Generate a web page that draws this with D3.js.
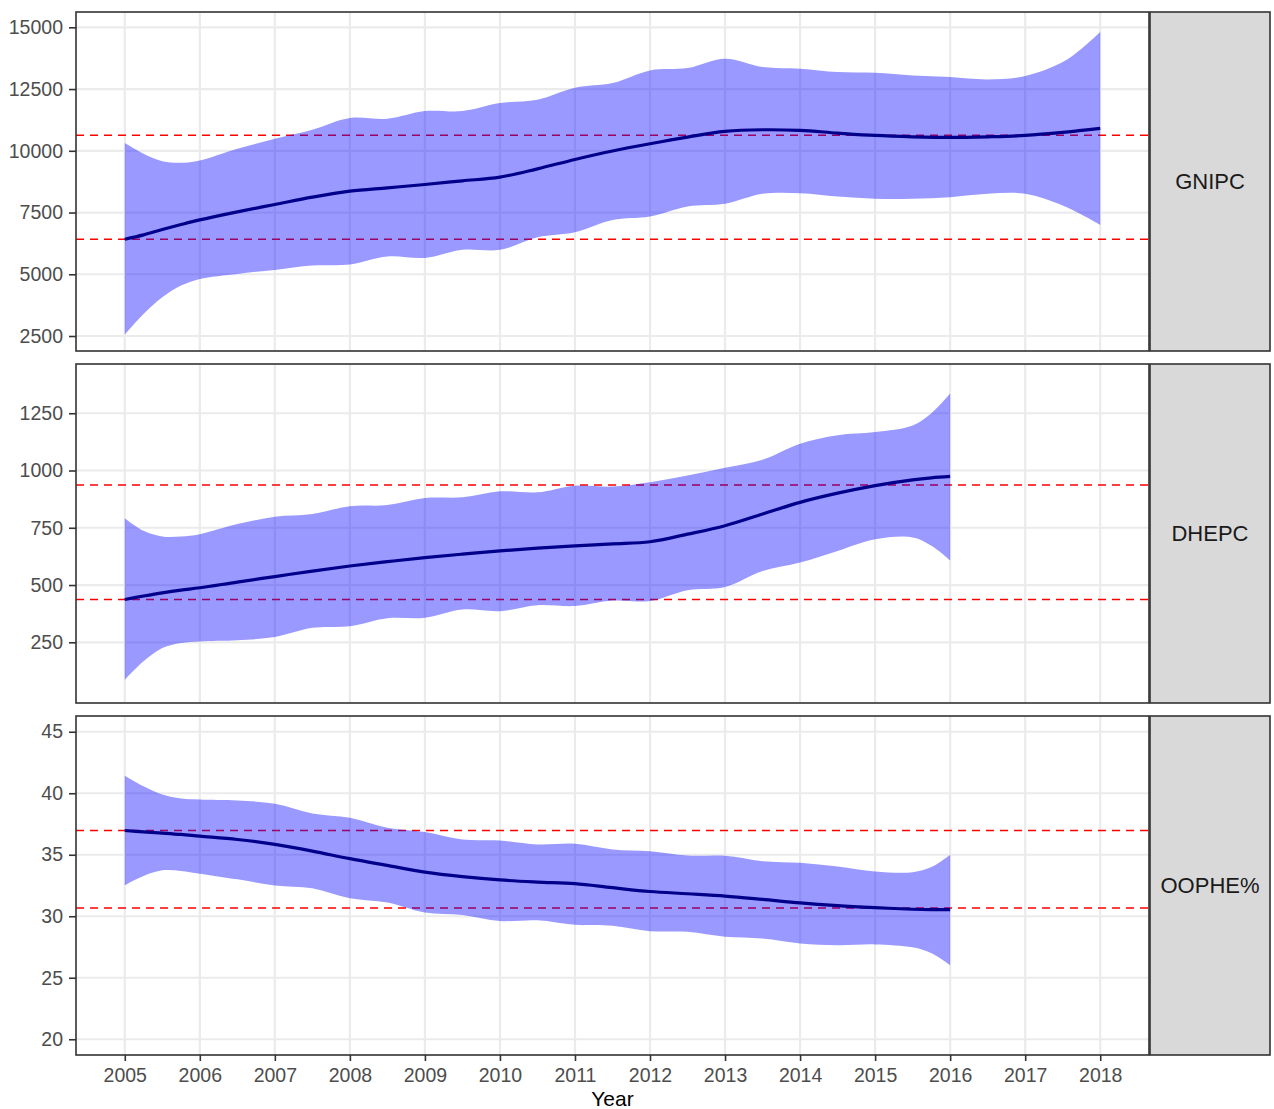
<!DOCTYPE html>
<html>
<head>
<meta charset="utf-8">
<script src="https://cdn.jsdelivr.net/npm/d3@7"></script>
<style>
  html, body { margin: 0; padding: 0; background: #fff; }
  svg { display: block; font-family: "Liberation Sans", Arial, sans-serif; }
</style>
</head>
<body>
<svg id="chart" width="1274" height="1109"></svg>
<script>
// ---- data -------------------------------------------------------------
const xTicks = [2005, 2006, 2007, 2008, 2009, 2010, 2011, 2012, 2013, 2014, 2015, 2016, 2017, 2018];

// GNIPC smooth fit with confidence band
const gnipcYears = [2005, 2005.25, 2005.5, 2005.75, 2006, 2006.5, 2007, 2007.5, 2008, 2008.5,
  2009, 2009.5, 2010, 2010.5, 2011, 2011.5, 2012, 2012.5, 2013, 2013.5, 2014, 2014.5,
  2015, 2015.5, 2016, 2016.5, 2017, 2017.5, 2017.75, 2018];
const gnipcFit = [6420, 6596, 6812, 7014, 7203, 7528, 7825, 8122, 8365, 8500,
  8635, 8784, 8933, 9270, 9649, 9990, 10284, 10554, 10784, 10851, 10824, 10716,
  10621, 10567, 10540, 10567, 10621, 10743, 10824, 10905];
const gnipcUpper = [10311, 9878, 9581, 9514, 9608, 10081, 10486, 10851, 11324, 11297,
  11608, 11608, 11932, 12067, 12553, 12742, 13256, 13350, 13729, 13391, 13323, 13188,
  13161, 13053, 12986, 12891, 13026, 13594, 14134, 14810];
const gnipcLower = [2556, 3394, 4069, 4542, 4812, 5015, 5177, 5353, 5393, 5717,
  5663, 5988, 5988, 6501, 6704, 7200, 7339, 7744, 7852, 8257, 8284, 8149,
  8055, 8055, 8122, 8257, 8257, 7784, 7420, 7001];
const gnipcRefs = [6420, 10630];
const gnipcTicks = [2500, 5000, 7500, 10000, 12500, 15000];

// DHEPC
const dhepcYears = [2005, 2005.25, 2005.5, 2005.75, 2006, 2006.5, 2007, 2007.5, 2008, 2008.5,
  2009, 2009.5, 2010, 2010.5, 2011, 2011.5, 2012, 2012.5, 2013, 2013.5, 2014, 2014.5,
  2015, 2015.5, 2015.75, 2016];
const dhepcFit = [437, 452, 466, 478, 488, 513, 537, 561, 583, 602,
  620, 635, 649, 661, 671, 680, 689, 722, 759, 810, 861, 901,
  934, 959, 968, 974];
const dhepcUpper = [792, 737, 712, 712, 722, 766, 798, 810, 844, 849,
  880, 883, 909, 905, 934, 930, 949, 978, 1012, 1047, 1117, 1154,
  1168, 1197, 1250, 1336];
const dhepcLower = [86, 167, 225, 247, 254, 259, 273, 313, 320, 355,
  357, 393, 386, 412, 408, 432, 430, 477, 491, 561, 598, 649,
  700, 708, 672, 608];
const dhepcRefs = [437, 937];
const dhepcTicks = [250, 500, 750, 1000, 1250];

// OOPHE%
const oopheYears = dhepcYears;
const oopheFit = [36.97, 36.86, 36.76, 36.65, 36.51, 36.24, 35.84, 35.30, 34.68, 34.13,
  33.59, 33.22, 32.95, 32.78, 32.65, 32.32, 32.01, 31.83, 31.64, 31.37, 31.08, 30.86,
  30.70, 30.57, 30.54, 30.54];
const oopheUpper = [41.43, 40.57, 39.89, 39.57, 39.49, 39.41, 39.14, 38.35, 38.00, 37.19,
  36.84, 36.24, 36.16, 35.84, 35.89, 35.43, 35.28, 34.93, 34.91, 34.47, 34.34, 34.04,
  33.64, 33.58, 34.00, 35.01];
const oopheLower = [32.51, 33.27, 33.73, 33.68, 33.46, 33.00, 32.51, 32.27, 31.46, 31.11,
  30.30, 30.11, 29.62, 29.67, 29.30, 29.22, 28.79, 28.73, 28.33, 28.19, 27.79, 27.65,
  27.71, 27.47, 27.00, 26.04];
const oopheRefs = [30.67, 36.97];
const oopheTicks = [20, 25, 30, 35, 40, 45];

const facets = [
  { label: "GNIPC",  years: gnipcYears, fit: gnipcFit, upper: gnipcUpper, lower: gnipcLower,
    refs: gnipcRefs, ticks: gnipcTicks, domain: [1893, 15620], top: 12, bottom: 351 },
  { label: "DHEPC",  years: dhepcYears, fit: dhepcFit, upper: dhepcUpper, lower: dhepcLower,
    refs: dhepcRefs, ticks: dhepcTicks, domain: [-15, 1465], top: 364, bottom: 703 },
  { label: "OOPHE%", years: oopheYears, fit: oopheFit, upper: oopheUpper, lower: oopheLower,
    refs: oopheRefs, ticks: oopheTicks, domain: [18.72, 46.28], top: 716, bottom: 1055 }
];

// ---- layout -----------------------------------------------------------
const panelLeft = 76, panelRight = 1149;
const stripLeft = 1150, stripRight = 1270;
const svg = d3.select("#chart");

const x = d3.scaleLinear().domain([2004.35, 2018.65]).range([panelLeft, panelRight]);
const smooth = d3.curveCatmullRom.alpha(0.5);

facets.forEach((f, i) => {
  const y = d3.scaleLinear().domain(f.domain).range([f.bottom, f.top]);
  const g = svg.append("g");
  const rows = f.years.map((yr, k) => ({ yr, fit: f.fit[k], hi: f.upper[k], lo: f.lower[k] }));

  // panel background and grid
  g.append("rect").attr("x", panelLeft).attr("y", f.top)
    .attr("width", panelRight - panelLeft).attr("height", f.bottom - f.top).attr("fill", "#fff");
  g.selectAll(".gy").data(f.ticks).join("line")
    .attr("x1", panelLeft).attr("x2", panelRight)
    .attr("y1", d => y(d)).attr("y2", d => y(d))
    .attr("stroke", "#EBEBEB").attr("stroke-width", 2.2);
  g.selectAll(".gx").data(xTicks).join("line")
    .attr("x1", d => x(d)).attr("x2", d => x(d))
    .attr("y1", f.top).attr("y2", f.bottom)
    .attr("stroke", "#EBEBEB").attr("stroke-width", 2.2);

  // dashed reference levels
  g.selectAll(".ref").data(f.refs).join("line")
    .attr("x1", panelLeft).attr("x2", panelRight)
    .attr("y1", d => y(d)).attr("y2", d => y(d))
    .attr("stroke", "#FF0000").attr("stroke-width", 1.4)
    .attr("stroke-dasharray", "8,6");

  // confidence band
  const band = d3.area().curve(smooth)
    .x(d => x(d.yr)).y0(d => y(d.lo)).y1(d => y(d.hi));
  g.append("path").datum(rows).attr("d", band)
    .attr("fill", "#0000FF").attr("fill-opacity", 0.4);

  // fitted line
  const line = d3.line().curve(smooth).x(d => x(d.yr)).y(d => y(d.fit));
  g.append("path").datum(rows).attr("d", line)
    .attr("fill", "none").attr("stroke", "#00008B").attr("stroke-width", 3.2);

  // panel border
  g.append("rect").attr("x", panelLeft).attr("y", f.top)
    .attr("width", panelRight - panelLeft).attr("height", f.bottom - f.top)
    .attr("fill", "none").attr("stroke", "#333333").attr("stroke-width", 1.6);

  // y axis
  const ya = g.append("g").attr("transform", `translate(${panelLeft},0)`)
    .call(d3.axisLeft(y).tickValues(f.ticks).tickSize(7).tickPadding(6).tickFormat(d3.format("d")));
  ya.select(".domain").remove();
  ya.selectAll(".tick line").attr("stroke", "#333333").attr("stroke-width", 1.6);
  ya.selectAll(".tick text").attr("fill", "#4D4D4D").style("font-size", "19.5px")
    .style("font-family", "'Liberation Sans', Arial, sans-serif");

  // facet strip
  g.append("rect").attr("x", stripLeft).attr("y", f.top)
    .attr("width", stripRight - stripLeft).attr("height", f.bottom - f.top)
    .attr("fill", "#D9D9D9").attr("stroke", "#333333").attr("stroke-width", 1.6);
  g.append("text").attr("x", (stripLeft + stripRight) / 2).attr("y", (f.top + f.bottom) / 2)
    .attr("text-anchor", "middle").attr("dominant-baseline", "central")
    .attr("fill", "#1A1A1A").style("font-size", "22px").text(f.label);

  // x axis on the bottom panel only
  if (i === facets.length - 1) {
    const xa = g.append("g").attr("transform", `translate(0,${f.bottom})`)
      .call(d3.axisBottom(x).tickValues(xTicks).tickSize(6).tickPadding(7).tickFormat(d3.format("d")));
    xa.select(".domain").remove();
    xa.selectAll(".tick line").attr("stroke", "#333333").attr("stroke-width", 1.6);
    xa.selectAll(".tick text").attr("fill", "#4D4D4D").style("font-size", "19.5px")
      .style("font-family", "'Liberation Sans', Arial, sans-serif");
  }
});

// x axis title
svg.append("text").attr("x", (panelLeft + panelRight) / 2).attr("y", 1106)
  .attr("text-anchor", "middle").attr("fill", "#000").style("font-size", "21px").text("Year");
</script>
</body>
</html>
